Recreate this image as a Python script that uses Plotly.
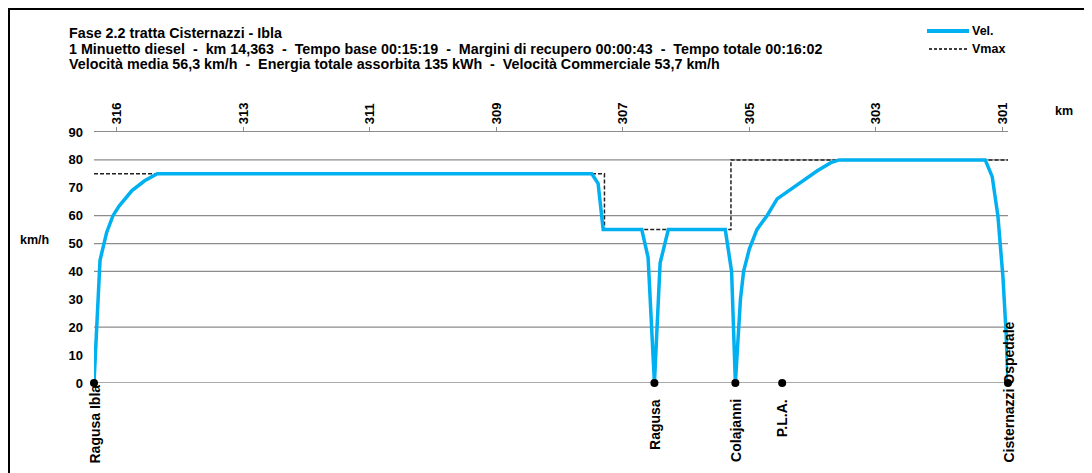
import plotly.graph_objects as go

# ---- data ----
vel_km = [0, 0.095, 0.20, 0.30, 0.40, 0.60, 0.80, 1.00, 7.87, 7.97, 8.05, 8.66, 8.76, 8.86,
          8.95, 9.08, 9.98, 10.08, 10.14, 10.22, 10.27, 10.36, 10.48, 10.64, 10.80, 10.99,
          11.22, 11.43, 11.65, 11.78, 14.09, 14.20, 14.29, 14.37, 14.42, 14.45]
vel_kmh = [0, 44, 54, 60, 63.5, 69, 72.5, 75, 75, 71.5, 55, 55, 45, 0,
           43, 55, 55, 40, 0, 30, 40, 48, 55, 60, 66, 69,
           73, 76, 79, 80, 80, 74, 60, 38, 18, 0]

vmax_km = [0, 8.07, 8.07, 10.07, 10.07, 14.45]
vmax_kmh = [75, 75, 55, 55, 80, 80]

stations = ["Ragusa Ibla", "Ragusa", "Colajanni", "P.L.A.", "Cisternazzi Ospedale"]
station_km = [0, 8.86, 10.14, 10.88, 14.45]

top_tick_km = [0.363, 2.363, 4.363, 6.363, 8.363, 10.363, 12.363, 14.363]
top_tick_labels = ["316", "313", "311", "309", "307", "305", "303", "301"]

y_ticks = [0, 10, 20, 30, 40, 50, 60, 70, 80, 90]
y_grid = [0, 20, 40, 50, 60, 80]

title_lines = [
    "Fase 2.2 tratta Cisternazzi - Ibla",
    "1 Minuetto diesel  -  km 14,363  -  Tempo base 00:15:19  -  Margini di recupero 00:00:43  -  Tempo totale 00:16:02",
    "Velocità media 56,3 km/h  -  Energia totale assorbita 135 kWh  -  Velocità Commerciale 53,7 km/h",
]

# ---- layout geometry (page pixels; the page body adds an 8px offset) ----
OFF = 8
W, H = 1092 - OFF, 473 - OFF
L, R, T, B = 94, 1008, 132, 383
FONT = "Liberation Sans, Arial, sans-serif"
BLUE = "#00B0F0"
FS = 12.5
FS_TITLE = 14.3
FS_STATION = 14


def px(x):
    return (x - L) / (R - L)


def py(y):
    return (B - y) / (B - T)


def bold(s):
    return "<b>" + s + "</b>"


fig = go.Figure()
fig.add_trace(go.Scatter(x=vmax_km, y=vmax_kmh, mode="lines", name="Vmax",
                         line=dict(color="#222222", width=1.5, dash="4px,2px"),
                         showlegend=False, hoverinfo="skip"))
fig.add_trace(go.Scatter(x=vel_km, y=vel_kmh, mode="lines", name="Vel.",
                         line=dict(color=BLUE, width=3.5),
                         showlegend=False))
fig.add_trace(go.Scatter(x=station_km, y=[0] * len(station_km), mode="markers",
                         marker=dict(color="black", size=8), showlegend=False,
                         cliponaxis=False, hovertext=stations))

shapes = []
for g in y_grid:
    shapes.append(dict(type="line", xref="paper", yref="y", x0=0, x1=1, y0=g, y1=g,
                       line=dict(color="#8c8c8c", width=1.3), layer="below"))
# outer frame (cropped on right/bottom)
shapes.append(dict(type="rect", xref="paper", yref="paper",
                   x0=px(9), x1=px(1110), y0=py(9), y1=py(490),
                   line=dict(color="black", width=2)))
# legend samples
shapes.append(dict(type="line", xref="paper", yref="paper", x0=px(927), x1=px(969),
                   y0=py(31), y1=py(31), line=dict(color=BLUE, width=4)))
shapes.append(dict(type="line", xref="paper", yref="paper", x0=px(929), x1=px(968),
                   y0=py(49), y1=py(49), line=dict(color="black", width=1.3, dash="3px,2px")))

ann = []
for i, t in enumerate(title_lines):
    ann.append(dict(text=bold(t), xref="paper", yref="paper", x=px(67), y=py(33 + 15.5 * i),
                    xanchor="left", yanchor="middle", showarrow=False,
                    font=dict(family=FONT, size=FS_TITLE, color="black")))
for t, yy in (("Vel.", 31), ("Vmax", 49)):
    ann.append(dict(text=bold(t), xref="paper", yref="paper", x=px(970), y=py(yy),
                    xanchor="left", yanchor="middle", showarrow=False,
                    font=dict(family=FONT, size=FS, color="black")))
ann.append(dict(text=bold("km/h"), xref="paper", yref="paper", x=px(18), y=py(240),
                xanchor="left", yanchor="middle", showarrow=False,
                font=dict(family=FONT, size=FS, color="black")))
ann.append(dict(text=bold("km"), xref="paper", yref="paper", x=px(1053), y=py(111),
                xanchor="left", yanchor="middle", showarrow=False,
                font=dict(family=FONT, size=FS, color="black")))

label_shift = [0, -14, -14, -14, None]
for name, k, s in zip(stations, station_km, label_shift):
    if s is None:
        ann.append(dict(text=bold(name), x=k, y=0, xref="x", yref="y", textangle=-90,
                        xanchor="center", yanchor="bottom", yshift=-82, showarrow=False,
                        font=dict(family=FONT, size=FS_STATION, color="black")))
    else:
        ann.append(dict(text=bold(name), x=k, y=0, xref="x", yref="y", textangle=-90,
                        xanchor="center", yanchor="top", yshift=s, showarrow=False,
                        font=dict(family=FONT, size=FS_STATION, color="black")))

fig.update_layout(
    width=W, height=H,
    margin=dict(l=L - OFF, r=W - (R - OFF), t=T - OFF, b=H - (B - OFF), pad=0),
    paper_bgcolor="white", plot_bgcolor="white",
    font=dict(family=FONT, size=FS, color="black"),
    showlegend=False,
    shapes=shapes, annotations=ann,
    xaxis=dict(range=[0, 14.45], side="top", tickmode="array", tickvals=top_tick_km,
               ticktext=[bold(t) for t in top_tick_labels], tickangle=-90, ticks="outside",
               ticklen=4, tickcolor="#8c8c8c", showline=True, linecolor="#8c8c8c",
               linewidth=1.3, showgrid=False, zeroline=False,
               tickfont=dict(family=FONT, size=13)),
    yaxis=dict(range=[0, 90], tickmode="array", tickvals=y_ticks,
               ticktext=[bold(str(v)) for v in y_ticks], showgrid=False,
               zeroline=False, showline=False, ticks="", ticklabelstandoff=10,
               tickfont=dict(family=FONT, size=13)),
)

fig.write_html("out.html")
